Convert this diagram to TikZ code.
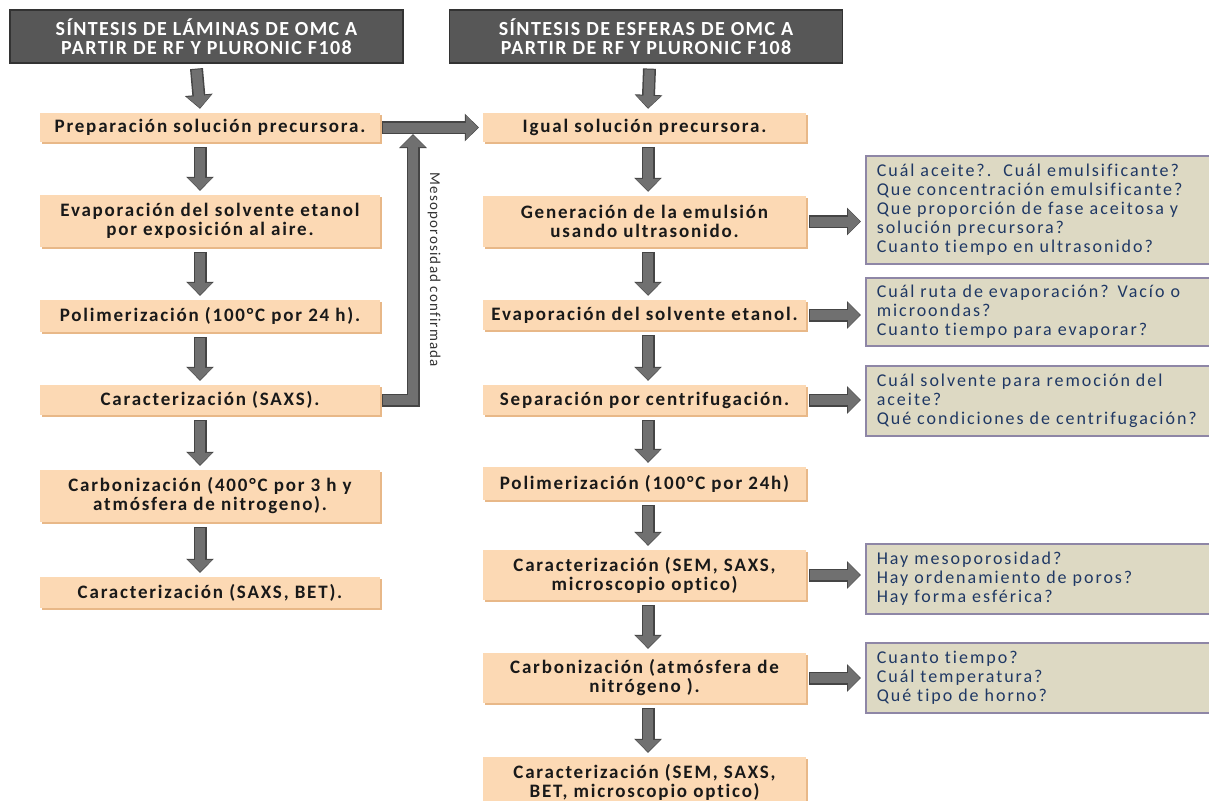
\documentclass[tikz,border=0pt]{standalone}
\usepackage{fontspec}
\setmainfont{Carlito}
\newfontfamily\hdrfont[LetterSpace=7,Ligatures=NoCommon]{Carlito}
\newfontfamily\boxfont[LetterSpace=9.5,Ligatures=NoCommon]{Carlito}
\newfontfamily\qfont[LetterSpace=11,Ligatures=NoCommon]{Carlito}
\newfontfamily\lblfont[LetterSpace=8,Ligatures=NoCommon]{Carlito}
\usetikzlibrary{arrows.meta,shadows}
\definecolor{peach}{HTML}{FCD9B4}
\definecolor{peachdk}{HTML}{E8B888}
\definecolor{hdr}{HTML}{575757}
\definecolor{hdrdk}{HTML}{333333}
\definecolor{qfill}{HTML}{DDD9C3}
\definecolor{qedge}{HTML}{8E86A6}
\definecolor{qtext}{HTML}{1F3864}
\definecolor{arr}{HTML}{707070}
\definecolor{arrdk}{HTML}{454545}
\tikzset{
  hdrbox/.style={fill=hdr, draw=hdrdk, line width=1.2pt, text=white, align=center,
    minimum width=393pt, minimum height=53pt, inner sep=0pt,
    font=\hdrfont\bfseries\fontsize{20}{19.5}\selectfont},
  stepbox/.style={fill=peach, align=center, inner sep=0pt, text=black!90,
    drop shadow={shadow xshift=1.5pt, shadow yshift=-2pt, fill=peachdk, opacity=1},
    font=\boxfont\bfseries\fontsize{19}{19}\selectfont},
  qbox/.style={fill=qfill, draw=qedge, line width=1.5pt, anchor=north west, align=left,
    text=qtext, inner xsep=11pt, text width=330pt, minimum width=352pt,
    font=\qfont\fontsize{18}{19}\selectfont},
  fat/.style={draw=arr, line width=10pt, -{Triangle[length=12pt,width=24pt]}},
  fatback/.style={draw=arrdk, line width=13pt, -{Triangle[length=14pt,width=27pt]}},
}
\begin{document}
\begin{tikzpicture}[x=1pt,y=-1pt]
\clip (0,0) rectangle (1209,800);
\fill[white] (0,0) rectangle (1209,800);
% headers
\node[hdrbox] (H1) at (206.5,36.5) {SÍNTESIS DE LÁMINAS DE OMC A\\PARTIR DE RF Y PLURONIC F108};
\node[hdrbox] (H2) at (646,36.5) {SÍNTESIS DE ESFERAS DE OMC A\\PARTIR DE RF Y PLURONIC F108};
% left column
\node[stepbox, minimum width=340pt, minimum height=29pt] (L1) at (210,127.5) {Preparación solución precursora.};
\node[stepbox, minimum width=340pt, minimum height=52pt] (L2) at (210,221) {Evaporación del solvente etanol\\por exposición al aire.};
\node[stepbox, minimum width=340pt, minimum height=32pt] (L3) at (210,316) {Polimerización (100°C por 24 h).};
\node[stepbox, minimum width=340pt, minimum height=30pt] (L4) at (210,400) {Caracterización (SAXS).};
\node[stepbox, minimum width=340pt, minimum height=52pt] (L5) at (210,496) {Carbonización (400°C por 3 h y\\atmósfera de nitrogeno).};
\node[stepbox, minimum width=340pt, minimum height=31pt] (L6) at (210,592.5) {Caracterización (SAXS, BET).};
% right column
\node[stepbox, minimum width=323pt, minimum height=29pt] (R1) at (644.5,127.5) {Igual solución precursora.};
\node[stepbox, minimum width=323pt, minimum height=51pt] (R2) at (644.5,221.5) {Generación de la emulsión\\usando ultrasonido.};
\node[stepbox, minimum width=323pt, minimum height=30pt] (R3) at (644.5,315) {Evaporación del solvente etanol.};
\node[stepbox, minimum width=323pt, minimum height=30pt] (R4) at (644.5,400) {Separación por centrifugación.};
\node[stepbox, minimum width=323pt, minimum height=33pt] (R5) at (644.5,483.5) {Polimerización (100°C por 24h)};
\node[stepbox, minimum width=323pt, minimum height=50pt] (R6) at (644.5,575) {Caracterización (SEM, SAXS,\\microscopio optico)};
\node[stepbox, minimum width=323pt, minimum height=50pt] (R7) at (644.5,678) {Carbonización (atmósfera de\\nitrógeno ).};
\node[stepbox, minimum width=323pt, minimum height=50pt] (R8) at (644.5,782) {Caracterización (SEM, SAXS,\\BET, microscopio optico)};
% question boxes
\node[qbox, minimum height=108pt] (Q1) at (865,155) {Cuál aceite?.\ \ Cuál emulsificante?\\Que concentración emulsificante?\\Que proporción de fase aceitosa y\\solución precursora?\\Cuanto tiempo en ultrasonido?};
\node[qbox, minimum height=68pt] (Q2) at (865,277) {Cuál ruta de evaporación? Vacío o\\microondas?\\Cuanto tiempo para evaporar?};
\node[qbox, minimum height=70pt] (Q3) at (865,365) {Cuál solvente para remoción del\\aceite?\\Qué condiciones de centrifugación?};
\node[qbox, minimum height=70pt] (Q4) at (865,543) {Hay mesoporosidad?\\Hay ordenamiento de poros?\\Hay forma esférica?};
\node[qbox, minimum height=70pt] (Q5) at (865,642) {Cuanto tiempo?\\Cuál temperatura?\\Qué tipo de horno?};
% vertical arrows, left
\foreach \a/\b in {H1/L1,L1/L2,L2/L3,L3/L4,L4/L5,L5/L6}{
  \draw[fatback] ([xshift=-10pt,yshift=-5pt]\a.south) -- ([xshift=-10pt,yshift=4pt]\b.north);
  \draw[fat] ([xshift=-10pt,yshift=-6pt]\a.south) -- ([xshift=-10pt,yshift=5pt]\b.north);
}
% vertical arrows, right
\foreach \a/\b in {H2/R1,R1/R2,R2/R3,R3/R4,R4/R5,R5/R6,R6/R7,R7/R8}{
  \draw[fatback] ([xshift=3.5pt,yshift=-5pt]\a.south) -- ([xshift=3.5pt,yshift=4pt]\b.north);
  \draw[fat] ([xshift=3.5pt,yshift=-6pt]\a.south) -- ([xshift=3.5pt,yshift=5pt]\b.north);
}
% side arrows
\foreach \a/\b in {R2/Q1,R3/Q2,R4/Q3,R6/Q4,R7/Q5}{
  \draw[fatback] ([xshift=3pt]\a.east) -- ([xshift=-4pt]\a.east -| \b.west);
  \draw[fat] ([xshift=4pt]\a.east) -- ([xshift=-5pt]\a.east -| \b.west);
}
% feedback
\coordinate (fbtip) at (413,134);
\draw[fatback] ([xshift=2pt]L1.east) -- ([xshift=-4pt]R1.west);
\draw[fat] ([xshift=3pt]L1.east) -- ([xshift=-5pt]R1.west);
\draw[fatback] ([xshift=2pt]L4.east) -| (fbtip);
\draw[fat] ([xshift=3pt]L4.east) -| ([yshift=-1pt]fbtip);
\node[rotate=-90, font=\lblfont\fontsize{15}{16}\selectfont, text=black!80, inner sep=0pt] (lbl) at (434,270) {Mesoporosidad confirmada};
\end{tikzpicture}
\end{document}
